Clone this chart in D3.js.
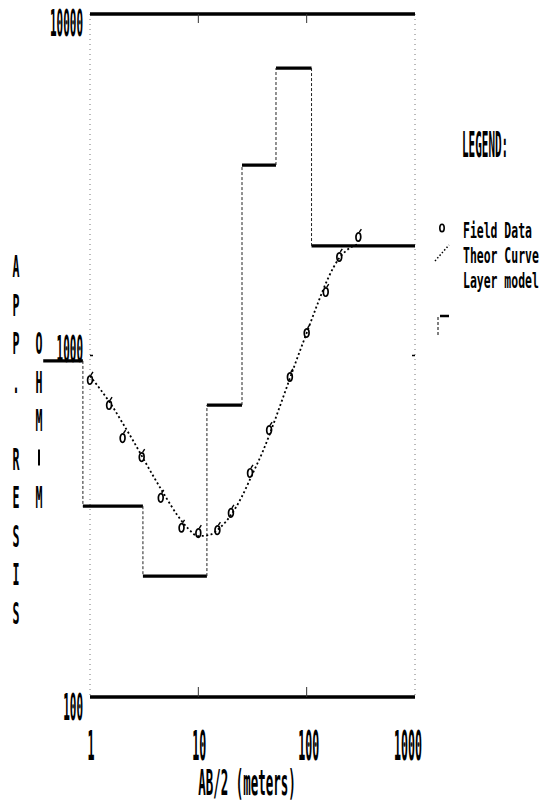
<!DOCTYPE html>
<html><head><meta charset="utf-8">
<script src="https://cdn.jsdelivr.net/npm/d3@7"></script>
<style>html,body{margin:0;padding:0;background:#fff}</style>
</head><body><svg id="chart" width="546" height="809"></svg>
<script>
// Field sounding: half electrode spacing AB/2 (m) and apparent resistivity (ohm-m)
const fieldAB2 = [1, 1.5, 2, 3, 4.5, 7, 10, 15, 20, 30, 45, 70, 100, 150, 200, 300];
const fieldRho = [848, 716, 573, 504, 383, 313, 302, 308, 346, 453, 605, 865, 1164, 1534, 1943, 2223];
// Theoretical sounding curve of the fitted model
const theorAB2 = [1, 1.26, 1.58, 2, 2.51, 3.16, 3.98, 5.01, 6.31, 7.94, 10, 12.6, 15.8, 20, 25.1, 31.6, 39.8, 50.1, 63.1, 79.4, 100, 126, 158, 200, 251, 300];
const theorRho = [871, 792, 716, 634, 562, 494, 435, 385, 343, 313, 296, 298, 313, 341, 385, 450, 528, 638, 782, 957, 1164, 1415, 1686, 1930, 2065, 2121];
// Layer model: resistivity of each layer, and the AB/2 values bounding each step
const layerRho = [964, 362, 226, 716, 3612, 6946, 2093];
const layerBounds = [0.37, 0.86, 3.08, 12.0, 25.3, 52.1, 110.9, 1000];
// Axis ticks
const xTicks = [1, 10, 100, 1000];
const yTicks = [100, 1000, 10000];
const yTitleLeft = "APP. RESIS";
const yTitleRight = "OHM-M";
const xTitle = "AB/2  (meters)";
const legendItems = ["Field Data", "Theor Curve", "Layer model"];

const svg = d3.select("#chart");
const x = d3.scaleLog().domain([1, 1000]).range([90, 415]);
const y = d3.scaleLog().domain([100, 10000]).range([697, 14]);

// condensed, tall plotter-style lettering
function label(g, str, px, py, capH, charW, anchor) {
  const fs = capH / 0.73;
  const sx = charW / (0.602 * fs);
  return g.append("text")
    .attr("transform", `translate(${px},${py}) scale(${sx},1)`)
    .attr("text-anchor", anchor || "start")
    .style("font-family", "'DejaVu Sans Mono', monospace")
    .style("font-weight", "bold")
    .style("font-size", fs + "px")
    .attr("fill", "#000")
    .text(str);
}

const frame = svg.append("g");
// left and right dotted axes
[1, 1000].forEach(v => {
  frame.append("line")
    .attr("x1", x(v)).attr("x2", x(v)).attr("y1", y(10000)).attr("y2", y(100))
    .attr("stroke", "#777").attr("stroke-width", 1).attr("stroke-dasharray", "1 4");
});
// heavy top and bottom rules
[100, 10000].forEach(v => {
  frame.append("line")
    .attr("x1", x(1)).attr("x2", x(1000)).attr("y1", y(v)).attr("y2", y(v))
    .attr("stroke", "#000").attr("stroke-width", 3.5);
});
// decade ticks on top and bottom
[10, 100].forEach(v => {
  frame.append("line").attr("x1", x(v)).attr("x2", x(v)).attr("y1", y(10000)).attr("y2", y(10000) + 9)
    .attr("stroke", "#333").attr("stroke-width", 1);
  frame.append("line").attr("x1", x(v)).attr("x2", x(v)).attr("y1", y(100)).attr("y2", y(100) - 10)
    .attr("stroke", "#333").attr("stroke-width", 1);
});
// 1000 ticks on both side axes
[1, 1000].forEach(v => {
  frame.append("line").attr("x1", x(v)).attr("x2", x(v) + (v === 1 ? 3 : -3)).attr("y1", y(1000)).attr("y2", y(1000))
    .attr("stroke", "#000").attr("stroke-width", 1.5);
});

// tick labels
const yLabelDy = {100: 23, 1000: 6, 10000: 22};
yTicks.forEach(v => label(frame, String(v), 83, y(v) + yLabelDy[v], 27, 6.6, "end"));
xTicks.forEach(v => {
  const px = v === 1000 ? x(v) - 7 : x(v) + (v === 100 ? 2 : 1);
  label(frame, String(v), px, 760, 30, 7, "middle");
});
label(frame, xTitle, 247, 795, 26, 7.5, "middle");

// stacked y-axis titles
const rowStep = 38.5, rowTop = 277;
yTitleLeft.split("").forEach((c, i) => {
  if (c !== " ") label(frame, c, 16, rowTop + i * rowStep, 22, 7, "middle");
});
yTitleRight.split("").forEach((c, i) => {
  const py = rowTop + (i + 2) * rowStep;
  if (c === "-") {
    frame.append("line").attr("x1", 39).attr("x2", 39).attr("y1", py - 20).attr("y2", py - 4)
      .attr("stroke", "#000").attr("stroke-width", 2);
  } else {
    label(frame, c, 39, py, 22, 7, "middle");
  }
});

// layer model: heavy horizontal steps, dashed risers
const layers = layerRho.map((r, i) => ({rho: r, x0: layerBounds[i], x1: layerBounds[i + 1]}));
const lm = svg.append("g");
lm.selectAll("line.step").data(layers).join("line").attr("class", "step")
  .attr("x1", d => x(d.x0)).attr("x2", d => x(d.x1))
  .attr("y1", d => y(d.rho)).attr("y2", d => y(d.rho))
  .attr("stroke", "#000").attr("stroke-width", 3.2);
lm.selectAll("line.riser").data(layers.slice(1)).join("line").attr("class", "riser")
  .attr("x1", d => x(d.x0)).attr("x2", d => x(d.x0))
  .attr("y1", (d, i) => y(layers[i].rho)).attr("y2", d => y(d.rho))
  .attr("stroke", "#222").attr("stroke-width", 1).attr("stroke-dasharray", "3 2");

// theoretical curve (dotted)
const curve = theorAB2.map((a, i) => [a, theorRho[i]]);
svg.append("path").datum(curve)
  .attr("d", d3.line().x(d => x(d[0])).y(d => y(d[1])).curve(d3.curveMonotoneX))
  .attr("fill", "none").attr("stroke", "#000").attr("stroke-width", 1.8).attr("stroke-dasharray", "2 2.5");

// field data symbols
const field = fieldAB2.map((a, i) => [a, fieldRho[i]]);
const pts = svg.append("g").selectAll("g").data(field).join("g")
  .attr("transform", d => `translate(${x(d[0])},${y(d[1])})`);
pts.append("ellipse").attr("rx", 2.4).attr("ry", 4.2)
  .attr("fill", "none").attr("stroke", "#000").attr("stroke-width", 1.7);
pts.append("line").attr("x1", 1).attr("x2", 3).attr("y1", -5).attr("y2", -8)
  .attr("stroke", "#000").attr("stroke-width", 1.4);

// legend
const lg = svg.append("g");
label(lg, "LEGEND:", 462, 157, 26, 6.6, "start");
const legY = [238, 263, 288];
legendItems.forEach((t, i) => label(lg, t, 463, legY[i], 15.5, 6.9, "start"));
lg.append("ellipse").attr("cx", 442).attr("cy", 228).attr("rx", 2.2).attr("ry", 3.8)
  .attr("fill", "none").attr("stroke", "#000").attr("stroke-width", 1.6);
lg.append("line").attr("x1", 435).attr("y1", 261).attr("x2", 449).attr("y2", 245)
  .attr("stroke", "#000").attr("stroke-width", 1.5).attr("stroke-dasharray", "1.5 2");
lg.append("line").attr("x1", 440).attr("x2", 449).attr("y1", 316).attr("y2", 316)
  .attr("stroke", "#000").attr("stroke-width", 2.5);
lg.append("line").attr("x1", 438).attr("x2", 438).attr("y1", 317).attr("y2", 337)
  .attr("stroke", "#000").attr("stroke-width", 1).attr("stroke-dasharray", "3 2");
</script>
</body></html>
